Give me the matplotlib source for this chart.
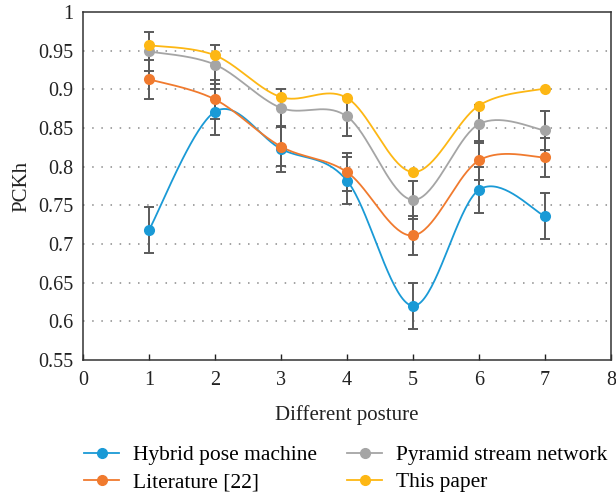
import numpy as np
import matplotlib
matplotlib.use('Agg')
import matplotlib.pyplot as plt
from matplotlib.lines import Line2D

plt.rcParams['font.family'] = ['Liberation Serif', 'DejaVu Serif']

# Data
postures = [1, 2, 3, 4, 5, 6, 7]
series_names = ["Hybrid pose machine", "Literature [22]", "Pyramid stream network", "This paper"]
hybrid = [0.718, 0.871, 0.823, 0.782, 0.620, 0.770, 0.736]
literature = [0.913, 0.887, 0.826, 0.793, 0.711, 0.808, 0.812]
pyramid = [0.949, 0.932, 0.876, 0.865, 0.757, 0.855, 0.847]
this_paper = [0.957, 0.944, 0.890, 0.889, 0.793, 0.879, 0.901]
errors = [0.03, 0.025, 0.025, None]

colors = ["#1a9ad6", "#f07a2e", "#a5a5a5", "#fdb714"]
x_ticks = [0, 1, 2, 3, 4, 5, 6, 7, 8]
y_ticks = [0.55, 0.6, 0.65, 0.7, 0.75, 0.8, 0.85, 0.9, 0.95, 1.0]
y_labels = ["0.55", "0.6", "0.65", "0.7", "0.75", "0.8", "0.85", "0.9", "0.95", "1"]


def smooth_curve(xs, ys, n=40):
    # Catmull-Rom style bezier, similar to spreadsheet "smoothed line"
    pts = np.column_stack([xs, ys]).astype(float)
    ext = np.vstack([pts[0], pts, pts[-1]])
    out = []
    t = np.linspace(0, 1, n)[:, None]
    for i in range(1, len(ext) - 2):
        p0, p1, p2, p3 = ext[i - 1], ext[i], ext[i + 1], ext[i + 2]
        c1 = p1 + (p2 - p0) / 6.0
        c2 = p2 - (p3 - p1) / 6.0
        seg = ((1 - t) ** 3) * p1 + 3 * ((1 - t) ** 2) * t * c1 + 3 * (1 - t) * t ** 2 * c2 + t ** 3 * p2
        out.append(seg if i == 1 else seg[1:])
    out = np.vstack(out)
    return out[:, 0], out[:, 1]


fig = plt.figure(figsize=(6.16, 4.94), dpi=100)
ax = fig.add_axes([0.1347, 0.2713, 0.857, 0.7044])

for y in y_ticks[1:-1]:
    ax.axhline(y, color="#8a8a8a", linestyle=(0, (1, 5)), linewidth=1.1, zorder=0)

all_series = [hybrid, literature, pyramid, this_paper]
for vals, err, col in zip(all_series, errors, colors):
    if err is not None:
        ax.errorbar(postures, vals, yerr=err, fmt='none', ecolor="#5a5a5a",
                    elinewidth=1.4, capsize=3.5, capthick=1.4, zorder=2)

for vals, col in zip(all_series, colors):
    sx, sy = smooth_curve(postures, vals)
    ax.plot(sx, sy, color=col, linewidth=1.3, zorder=3)
    ax.plot(postures, vals, 'o', color=col, markersize=8, markeredgewidth=0, zorder=4)

ax.set_xlim(0, 8)
ax.set_ylim(0.55, 1.0)
ax.set_xticks(x_ticks)
ax.set_yticks(y_ticks)
ax.set_yticklabels(y_labels)
ax.tick_params(axis='x', direction='in', length=4, width=1, labelsize=14.5, pad=8, colors="#222222")
ax.tick_params(axis='y', length=0, labelsize=14.5, pad=7, colors="#222222")
for sp in ax.spines.values():
    sp.set_color("#333333")
    sp.set_linewidth(1.1)

ax.set_xlabel("Different posture", fontsize=15, color="#222222", labelpad=11)
ax.set_ylabel("PCKh", fontsize=15, color="#222222", labelpad=5)

handles = [Line2D([0], [0], color=c, marker='o', markersize=7, linewidth=1.3) for c in colors]
fig.legend(handles, series_names,
           loc='upper left', bbox_to_anchor=(0.1364, 0.0985), ncol=2,
           frameon=False, fontsize=15.5, handlelength=1.63, columnspacing=1.4,
           labelspacing=0.31, handletextpad=0.65, borderpad=0, borderaxespad=0)

fig.savefig("out.png", dpi=100)
